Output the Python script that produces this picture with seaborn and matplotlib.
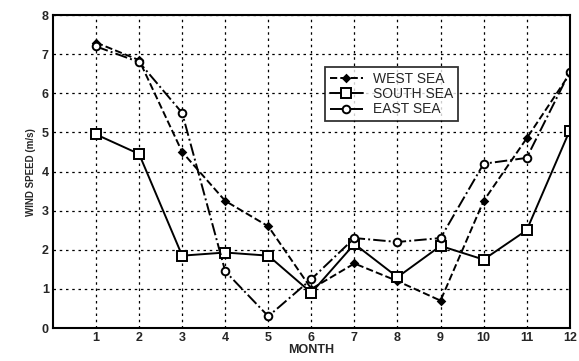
import matplotlib
matplotlib.use("Agg")
import matplotlib.pyplot as plt
import seaborn as sns
import pandas as pd

months = [1, 2, 3, 4, 5, 6, 7, 8, 9, 10, 11, 12]
west_sea = [7.3, 6.85, 4.5, 3.25, 2.6, 1.0, 1.65, 1.2, 0.7, 3.25, 4.85, 6.5]
south_sea = [4.95, 4.45, 1.85, 1.93, 1.85, 0.9, 2.15, 1.3, 2.1, 1.75, 2.5, 5.05]
east_sea = [7.2, 6.8, 5.5, 1.45, 0.3, 1.25, 2.3, 2.2, 2.3, 4.2, 4.35, 6.55]
series_names = ["WEST SEA", "SOUTH SEA", "EAST SEA"]

sns.set_theme(style="white")
plt.rcParams['font.family'] = ['Liberation Sans', 'DejaVu Sans']

fig = plt.figure(figsize=(5.79, 3.61), dpi=100)
ax = fig.add_axes([0.0915, 0.0914, 0.8925, 0.8666])

styles = {
    "WEST SEA": dict(linestyle="--", marker="D", markersize=3.5, markerfacecolor="black"),
    "SOUTH SEA": dict(linestyle="-", marker="s", markersize=6.5, markerfacecolor="white"),
    "EAST SEA": dict(linestyle="-.", marker="o", markersize=5.5, markerfacecolor="white"),
}
for name, vals in zip(series_names, [west_sea, south_sea, east_sea]):
    df = pd.DataFrame({"month": months, "speed": vals})
    st = styles[name]
    sns.lineplot(data=df, x="month", y="speed", ax=ax, color="black", linewidth=1.4,
                 linestyle=st["linestyle"], marker=st["marker"], markersize=st["markersize"],
                 markerfacecolor=st["markerfacecolor"], markeredgecolor="black",
                 markeredgewidth=1.4, label=name)

ax.set_xlim(0, 12)
ax.set_ylim(0, 8)
ax.set_xticks(months)
ax.set_yticks(range(0, 9))
ax.grid(True, color="black", linestyle=(0, (2, 3)), linewidth=0.9)
for s in ax.spines.values():
    s.set_color("black")
    s.set_linewidth(1.5)
ax.tick_params(axis="both", labelsize=9, length=0, pad=3)
for lbl in ax.get_xticklabels() + ax.get_yticklabels():
    lbl.set_fontweight("bold")
ax.set_xlabel("MONTH", fontsize=9, fontweight="bold", labelpad=0)
ax.set_ylabel("WIND SPEED (m/s)", fontsize=7, fontweight="bold", labelpad=4)

leg = ax.legend(loc="upper left", bbox_to_anchor=(0.526, 0.835), frameon=True,
                fancybox=False, edgecolor="black", fontsize=10, handlelength=2.4,
                borderpad=0.35, labelspacing=0.1, handletextpad=0.7, borderaxespad=0)
leg.get_frame().set_linewidth(1.3)

fig.savefig("out.png", dpi=100, facecolor="white")
